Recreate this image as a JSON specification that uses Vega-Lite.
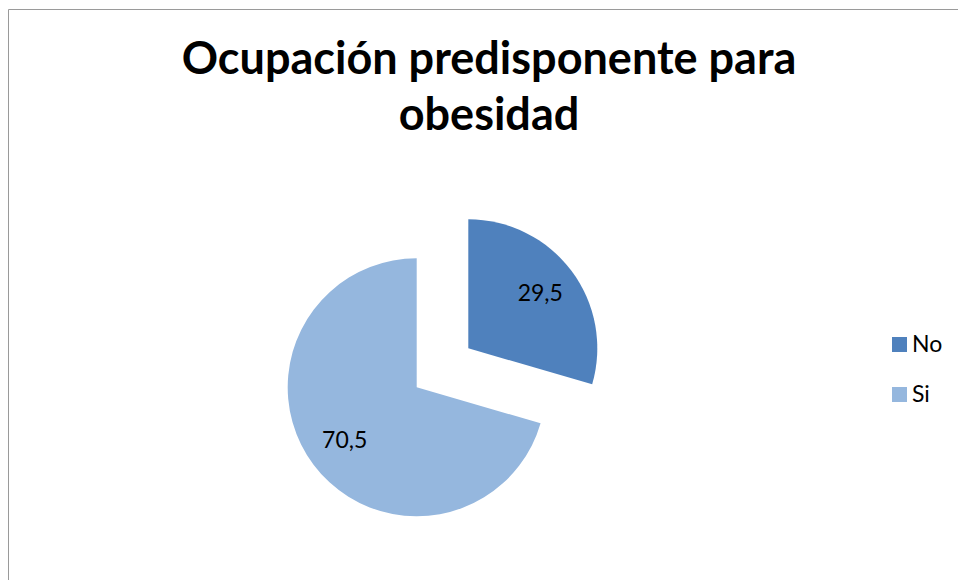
{
  "$schema": "https://vega.github.io/schema/vega-lite/v6.json",
  "autosize": "none",
  "width": 952,
  "height": 573,
  "padding": {"left": 8, "top": 9, "right": -2, "bottom": -2},
  "background": "white",
  "view": {"stroke": "#9a9a9a", "strokeWidth": 1, "fill": "white"},
  "config": {
    "view": {"stroke": "#9a9a9a", "strokeWidth": 1},
    "font": "Lato"
  },
  "title": {
    "text": ["Ocupación predisponente para", "obesidad"],
    "font": "Lato",
    "fontSize": 45,
    "fontWeight": "bold",
    "color": "#000000",
    "lineHeight": 56,
    "anchor": "middle",
    "frame": "group",
    "dx": 5,
    "offset": -130
  },
  "data": {
    "values": [
      {"cat": "No", "value": 29.5, "label": "29,5"},
      {"cat": "Si", "value": 70.5, "label": "70,5"}
    ]
  },
  "transform": [
    {"stack": "value", "groupby": [], "sort": [{"field": "cat", "order": "ascending"}], "as": ["v0", "v1"]}
  ],
  "encoding": {
    "color": {
      "field": "cat",
      "type": "nominal",
      "scale": {"domain": ["No", "Si"], "range": ["#4F81BD", "#95B7DE"]},
      "legend": {
        "title": null,
        "orient": "none",
        "legendX": 880,
        "legendY": 324,
        "padding": 0,
        "symbolType": "square",
        "symbolSize": 225,
        "symbolStrokeWidth": 0,
        "labelFont": "Lato",
        "labelFontSize": 23,
        "labelColor": "#000000",
        "labelOffset": 1,
        "rowPadding": 26
      }
    }
  },
  "layer": [
    {
      "transform": [{"filter": "datum.cat === 'No'"}],
      "mark": {"type": "arc", "outerRadius": 129, "xOffset": -15.7, "yOffset": 52.8},
      "encoding": {
        "theta": {"field": "v0", "type": "quantitative", "scale": {"domain": [0, 100]}},
        "theta2": {"field": "v1"}
      }
    },
    {
      "transform": [{"filter": "datum.cat === 'Si'"}],
      "mark": {"type": "arc", "outerRadius": 129, "xOffset": -67.3, "yOffset": 91.8},
      "encoding": {
        "theta": {"field": "v0", "type": "quantitative", "scale": {"domain": [0, 100]}},
        "theta2": {"field": "v1"}
      }
    },
    {
      "mark": {"type": "text", "radius": 90, "xOffset": -15.7, "yOffset": 52.8, "font": "Lato", "fontSize": 23},
      "encoding": {
        "theta": {"field": "value", "type": "quantitative", "stack": true, "sort": "ascending"},
        "order": {"field": "cat", "sort": "ascending"},
        "text": {"condition": {"test": "datum.cat === 'No'", "field": "label"}, "value": ""},
        "color": {"value": "#000000"}
      }
    },
    {
      "mark": {"type": "text", "radius": 90, "xOffset": -67.3, "yOffset": 91.8, "font": "Lato", "fontSize": 23},
      "encoding": {
        "theta": {"field": "value", "type": "quantitative", "stack": true},
        "order": {"field": "cat", "sort": "ascending"},
        "text": {"condition": {"test": "datum.cat === 'Si'", "field": "label"}, "value": ""},
        "color": {"value": "#000000"}
      }
    }
  ]
}
